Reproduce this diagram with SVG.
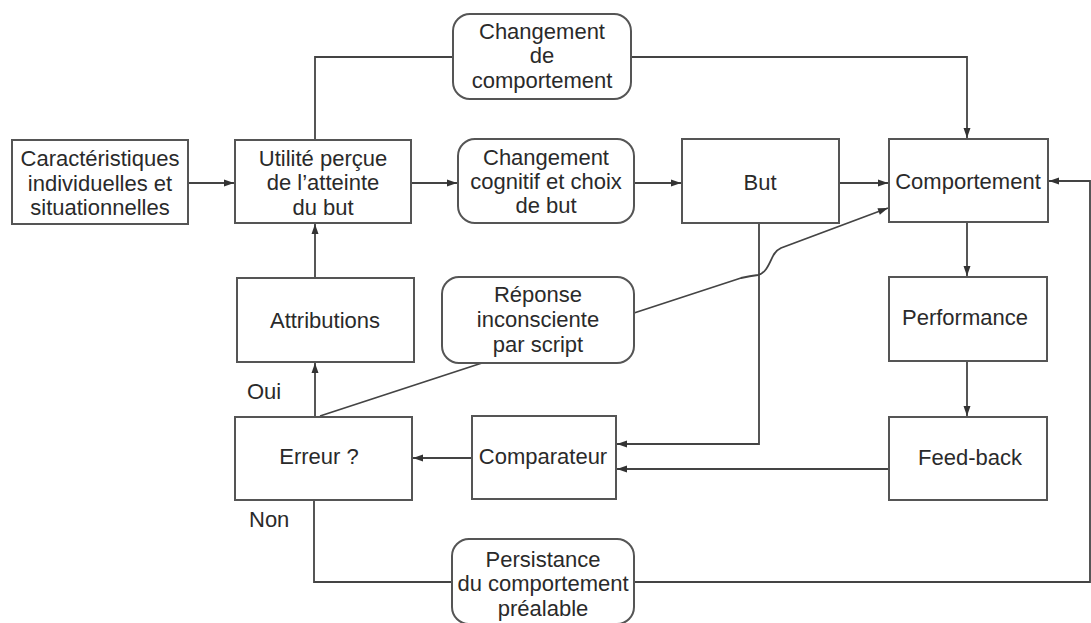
<svg xmlns="http://www.w3.org/2000/svg" width="1091" height="623" viewBox="0 0 1091 623">
<defs>
<style>
.box{fill:#fff;stroke:#555;stroke-width:2}
.ln{fill:none;stroke:#444;stroke-width:1.8}
.t{font-family:"Liberation Sans",Arial,Helvetica,sans-serif;font-size:22px;fill:#2a2a2a;text-anchor:middle}
.l{font-family:"Liberation Sans",Arial,Helvetica,sans-serif;font-size:22px;fill:#2a2a2a}
</style>
<marker id="arr" viewBox="0 0 10 8" refX="10" refY="4" markerWidth="11" markerHeight="8" markerUnits="userSpaceOnUse" orient="auto">
<path d="M0,0.5 L10,4 L0,7.5 z" fill="#333"/>
</marker>
</defs>
<rect width="1091" height="623" fill="#fff"/>
<g id="connectors">
<path class="ln" d="M188,183 H234" marker-end="url(#arr)"/>
<path class="ln" d="M411,183 H457" marker-end="url(#arr)"/>
<path class="ln" d="M634,183 H681" marker-end="url(#arr)"/>
<path class="ln" d="M839,183 H888" marker-end="url(#arr)"/>
<path class="ln" d="M315,140 V57 H453"/>
<path class="ln" d="M631,57 H967 V138" marker-end="url(#arr)"/>
<path class="ln" d="M315,278 V224" marker-end="url(#arr)"/>
<path class="ln" d="M315,417 V363" marker-end="url(#arr)"/>
<path class="ln" d="M320,416 L482,363"/>
<path class="ln" d="M634,313 L741,278 Q750,276 758,275 C768,273 771,257 775,253 Q777,250 781,248 L888,208" marker-end="url(#arr)"/>
<path class="ln" d="M759,223 V444 H617" marker-end="url(#arr)"/>
<path class="ln" d="M967,222 V276" marker-end="url(#arr)"/>
<path class="ln" d="M967,361 V416" marker-end="url(#arr)"/>
<path class="ln" d="M889,469 H617" marker-end="url(#arr)"/>
<path class="ln" d="M472,458 H413" marker-end="url(#arr)"/>
<path class="ln" d="M314,500 V582 H452"/>
<path class="ln" d="M634,582 H1090 V181 H1049" marker-end="url(#arr)"/>
</g>
<g id="n-caracteristiques">
<rect class="box" x="12" y="140" width="176" height="84"/>
<text class="t" x="100" y="166">Caractéristiques</text>
<text class="t" x="100" y="191">individuelles et</text>
<text class="t" x="100" y="215">situationnelles</text>
</g>
<g id="n-utilite">
<rect class="box" x="235" y="140" width="176" height="83"/>
<text class="t" x="323" y="166">Utilité perçue</text>
<text class="t" x="323" y="190">de l’atteinte</text>
<text class="t" x="323" y="215">du but</text>
</g>
<g id="n-changement-comportement">
<rect class="box" x="453" y="14" width="178" height="85" rx="17"/>
<text class="t" x="542" y="39">Changement</text>
<text class="t" x="542" y="63">de</text>
<text class="t" x="542" y="88">comportement</text>
</g>
<g id="n-changement-cognitif">
<rect class="box" x="458" y="139" width="176" height="84" rx="17"/>
<text class="t" x="546" y="165">Changement</text>
<text class="t" x="546" y="189">cognitif et choix</text>
<text class="t" x="546" y="213">de but</text>
</g>
<g id="n-but">
<rect class="box" x="682" y="139" width="157" height="84"/>
<text class="t" x="760" y="190">But</text>
</g>
<g id="n-comportement">
<rect class="box" x="889" y="139" width="159" height="83"/>
<text class="t" x="968" y="189">Comportement</text>
</g>
<g id="n-attributions">
<rect class="box" x="237" y="278" width="177" height="84"/>
<text class="t" x="325" y="328">Attributions</text>
</g>
<g id="n-reponse">
<rect class="box" x="442" y="277" width="192" height="86" rx="17"/>
<text class="t" x="538" y="302">Réponse</text>
<text class="t" x="538" y="327">inconsciente</text>
<text class="t" x="538" y="352">par script</text>
</g>
<g id="n-performance">
<rect class="box" x="889" y="277" width="158" height="84"/>
<text class="t" x="965" y="325">Performance</text>
</g>
<g id="n-erreur">
<rect class="box" x="235" y="417" width="177" height="83"/>
<text class="t" x="319" y="464">Erreur ?</text>
</g>
<g id="n-comparateur">
<rect class="box" x="472" y="416" width="144" height="83"/>
<text class="t" x="543" y="464">Comparateur</text>
</g>
<g id="n-feedback">
<rect class="box" x="889" y="417" width="158" height="83"/>
<text class="t" x="970" y="465">Feed-back</text>
</g>
<g id="n-persistance">
<rect class="box" x="452" y="539" width="182" height="85" rx="17"/>
<text class="t" x="543" y="567">Persistance</text>
<text class="t" x="543" y="591">du comportement</text>
<text class="t" x="543" y="616">préalable</text>
</g>
<g id="labels">
<text class="l" x="247" y="399">Oui</text>
<text class="l" x="249" y="527">Non</text>
</g>
</svg>
